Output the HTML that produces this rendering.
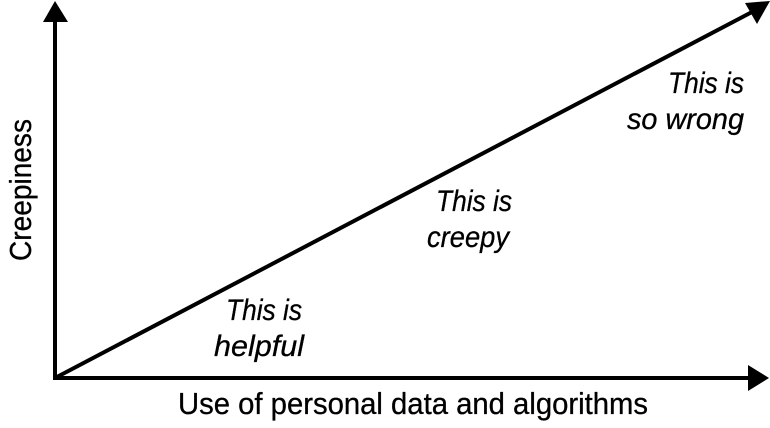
<!DOCTYPE html>
<html><head><style>
body{margin:0;background:#fff}
svg text{font-family:"Liberation Sans",sans-serif;fill:#000}
</style></head><body>
<svg width="770" height="423" viewBox="0 0 770 423">
<line x1="55" y1="380" x2="55" y2="18" stroke="#000" stroke-width="4"/>
<polygon points="55,1 43,22 68,22" fill="#000"/>
<line x1="53" y1="378" x2="752" y2="378" stroke="#000" stroke-width="4"/>
<polygon points="769,378 748,365 748,391" fill="#000"/>
<line x1="55" y1="378" x2="752" y2="12" stroke="#000" stroke-width="4"/>
<polygon points="770,1 745,3 757,24" fill="#000"/>
<text x="413" y="414" font-size="31" text-anchor="middle" textLength="470" lengthAdjust="spacingAndGlyphs" stroke="#000" stroke-width="0.3">Use of personal data and algorithms</text>
<text transform="translate(31,190) rotate(-90)" font-size="31" text-anchor="middle" textLength="142" lengthAdjust="spacingAndGlyphs" stroke="#000" stroke-width="0.3">Creepiness</text>
<g font-style="italic" font-size="30" stroke="#000" stroke-width="0.3">
<text x="226" y="320" textLength="76" lengthAdjust="spacingAndGlyphs">This is</text>
<text x="214" y="356" textLength="90" lengthAdjust="spacingAndGlyphs">helpful</text>
<text x="436" y="211" textLength="76" lengthAdjust="spacingAndGlyphs">This is</text>
<text x="427" y="247" textLength="82" lengthAdjust="spacingAndGlyphs">creepy</text>
<text x="668" y="93" textLength="76" lengthAdjust="spacingAndGlyphs">This is</text>
<text x="627" y="129" textLength="117" lengthAdjust="spacingAndGlyphs">so wrong</text>
</g>
</svg>
</body></html>
